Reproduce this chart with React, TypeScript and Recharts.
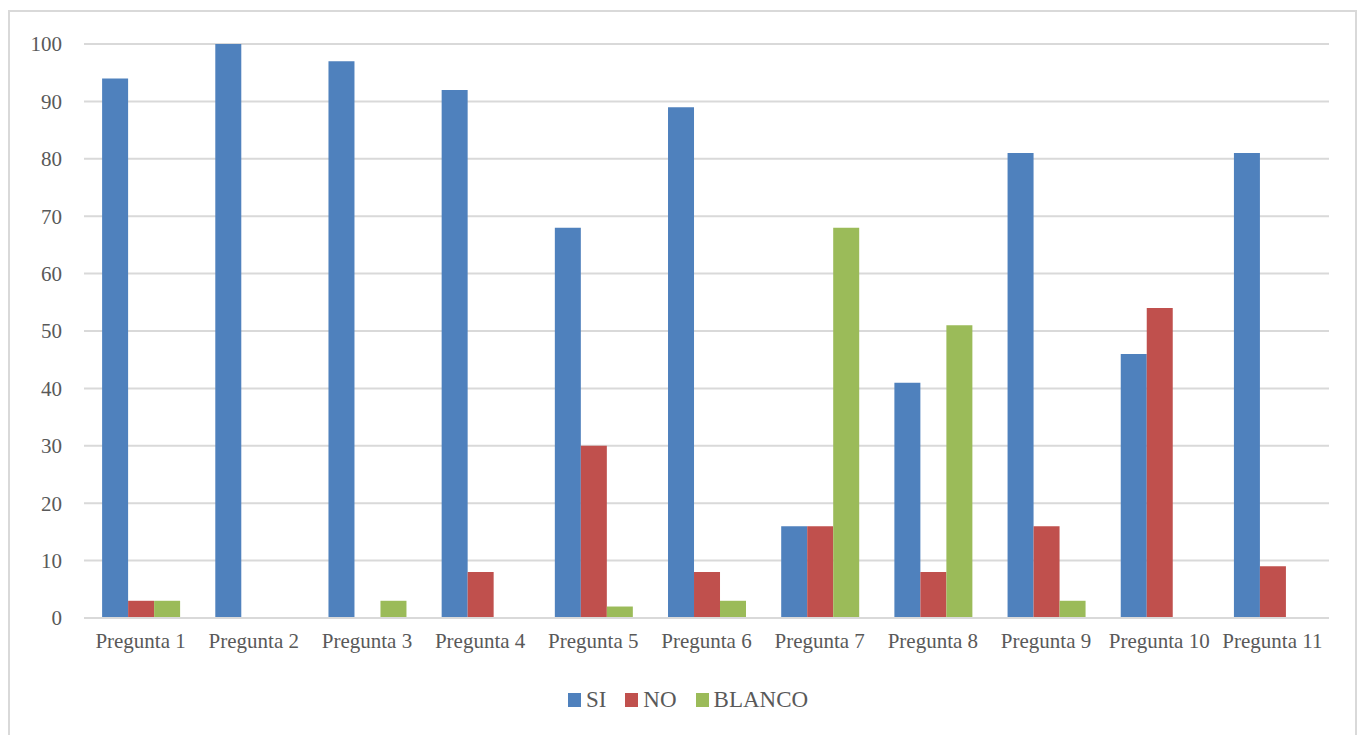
import React from "react";
import { BarChart, Bar, XAxis, YAxis, CartesianGrid, Legend } from "recharts";

const categories = [
  "Pregunta 1", "Pregunta 2", "Pregunta 3", "Pregunta 4", "Pregunta 5", "Pregunta 6",
  "Pregunta 7", "Pregunta 8", "Pregunta 9", "Pregunta 10", "Pregunta 11",
];
const si = [94, 100, 97, 92, 68, 89, 16, 41, 81, 46, 81];
const no = [3, 0, 0, 8, 30, 8, 16, 8, 16, 54, 9];
const blanco = [3, 0, 3, 0, 2, 3, 68, 51, 3, 0, 0];
const yTicks = [0, 10, 20, 30, 40, 50, 60, 70, 80, 90, 100];

const seriesNames = ["SI", "NO", "BLANCO"];
const colors = ["#4F81BD", "#C0504D", "#9BBB59"];

const data = categories.map((c, i) => ({ name: c, SI: si[i], NO: no[i], BLANCO: blanco[i] }));

const FONT = "Liberation Serif, Tinos, DejaVu Serif, serif";
const TEXT = "#595959";

const LegendContent = () => (
  <div
    style={{
      display: "flex",
      justifyContent: "center",
      alignItems: "center",
      paddingLeft: 18,
      height: 34,
      fontFamily: FONT,
      fontSize: 23,
      color: TEXT,
    }}
  >
    {seriesNames.map((n, i) => (
      <div key={n} style={{ display: "flex", alignItems: "center", marginRight: i < 2 ? 19 : 0 }}>
        <span style={{ width: 13, height: 14, background: colors[i], display: "inline-block", marginRight: 5 }} />
        <span>{n}</span>
      </div>
    ))}
  </div>
);

export default function App() {
  return (
    <div style={{ position: "fixed", left: 0, top: 0, width: 1358, height: 735, background: "#fff" }}>
      <div
        style={{
          position: "absolute",
          left: 8,
          top: 10,
          width: 1349,
          height: 725,
          border: "2px solid #d9d9d9",
          borderBottom: "none",
          boxSizing: "border-box",
        }}
      />
      <div style={{ position: "absolute", left: 0, top: 0 }}>
        <BarChart
          width={1358}
          height={735}
          data={data}
          margin={{ top: 44, right: 29, left: 0, bottom: 18 }}
          barCategoryGap="16%"
          barGap={0}
          style={{ fontFamily: FONT }}
        >
          <CartesianGrid vertical={false} stroke="#d9d9d9" strokeWidth={2} />
          <XAxis
            dataKey="name"
            height={65}
            tickLine={false}
            tickSize={0}
            tickMargin={15}
            axisLine={{ stroke: "#d9d9d9", strokeWidth: 2 }}
            tick={{ fill: TEXT, fontSize: 21, fontFamily: FONT }}
            interval={0}
          />
          <YAxis
            width={84}
            domain={[0, 100]}
            ticks={yTicks}
            axisLine={false}
            tickLine={false}
            tickSize={0}
            tickMargin={22}
            tick={{ fill: TEXT, fontSize: 21, fontFamily: FONT }}
          />
          <Legend
            verticalAlign="bottom"
            height={34}
            wrapperStyle={{ left: 0, width: 1358 }}
            content={<LegendContent />}
          />
          {seriesNames.map((n, i) => (
            <Bar key={n} dataKey={n} fill={colors[i]} isAnimationActive={false} />
          ))}
        </BarChart>
      </div>
    </div>
  );
}
